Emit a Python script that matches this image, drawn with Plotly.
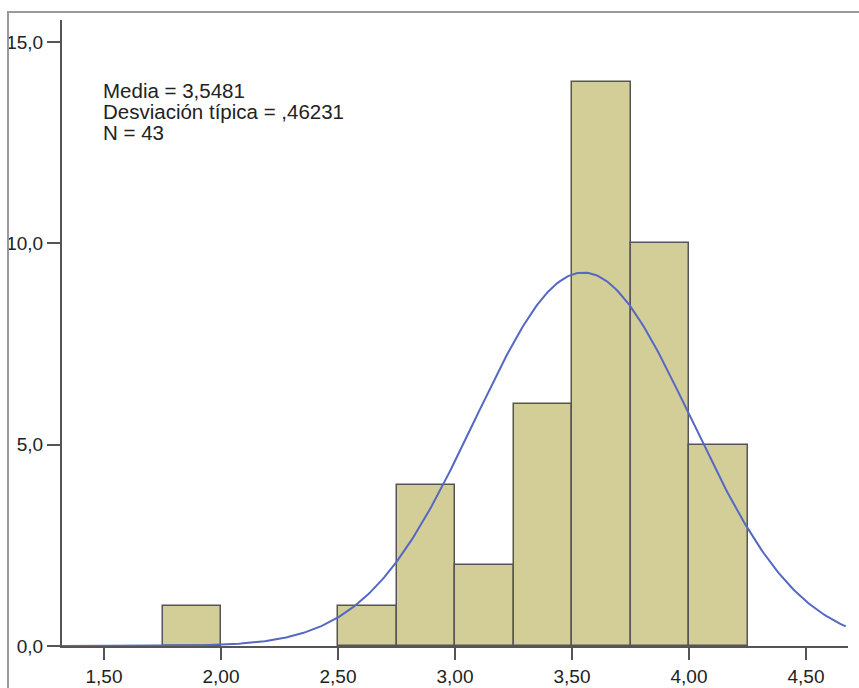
import numpy as np
import plotly.graph_objects as go

# Data
bin_left = [1.75, 2.50, 2.75, 3.00, 3.25, 3.50, 3.75, 4.00]
counts = [1, 1, 4, 2, 6, 14, 10, 5]
bin_width = 0.25
mean = 3.5481
sd = 0.46231
n = 43
x_ticks = [1.5, 2.0, 2.5, 3.0, 3.5, 4.0, 4.5]
x_labels = ["1,50", "2,00", "2,50", "3,00", "3,50", "4,00", "4,50"]
y_ticks = [0, 5, 10, 15]
y_labels = ["0,0", "5,0", "10,0", "15,0"]
stat_lines = ["Media = 3,5481", "Desviación típica = ,46231", "N = 43"]

x_range = [1.3205, 4.6795]
y_range = [0, 15.55]

# Normal curve from stated mean / sd, scaled to counts
xc = np.linspace(x_range[0], 4.67, 400)
yc = n * bin_width * np.exp(-0.5 * ((xc - mean) / sd) ** 2) / (sd * np.sqrt(2 * np.pi))

fig = go.Figure()
fig.add_trace(go.Bar(
    x=[b + bin_width / 2 for b in bin_left],
    y=counts,
    width=bin_width,
    marker=dict(color="#D3CE98", line=dict(color="#555555", width=1.5)),
    hoverinfo="skip",
))
fig.add_trace(go.Scatter(
    x=xc, y=yc, mode="lines",
    line=dict(color="#5468C4", width=2),
    hoverinfo="skip",
))

W, H = 859, 688
L, R, T, B = 62, 848, 20, 646
fig.update_layout(
    width=W, height=H,
    margin=dict(l=L, r=W - R, t=T, b=H - B, autoexpand=False),
    paper_bgcolor="white", plot_bgcolor="white",
    showlegend=False,
    bargap=0,
    font=dict(family="Liberation Sans, Arial, sans-serif", size=19, color="#222222"),
)
fig.update_xaxes(
    range=x_range, tickvals=x_ticks, ticktext=x_labels,
    showgrid=False, zeroline=False,
    showline=True, linecolor="#555555", linewidth=2,
    ticks="outside", ticklen=12, tickwidth=2, tickcolor="#555555",
    tickfont=dict(size=19, color="#222222"),
)
fig.update_yaxes(
    range=y_range, tickvals=y_ticks, ticktext=y_labels,
    showgrid=False, zeroline=False,
    showline=True, linecolor="#555555", linewidth=2,
    ticks="outside", ticklen=13, tickwidth=2, tickcolor="#555555",
    tickfont=dict(size=19, color="#222222"),
)

pw, ph = R - L, B - T
# outer frame (left and top edges visible)
fig.add_shape(type="rect", xref="paper", yref="paper",
              x0=(8 - L) / pw, x1=(W + 20 - L) / pw,
              y0=(B - (H + 20)) / ph, y1=1 + (T - 12) / ph,
              line=dict(color="#999999", width=2), fillcolor="rgba(0,0,0,0)", layer="above")

for i, line in enumerate(stat_lines):
    fig.add_annotation(
        xref="paper", yref="paper",
        x=(101 - L) / pw, y=1 - (91 + 20.5 * i - T) / ph,
        xanchor="left", yanchor="middle", align="left", showarrow=False,
        text=line,
        font=dict(size=20.5, color="#222222"),
    )

fig.write_html("out.html")
